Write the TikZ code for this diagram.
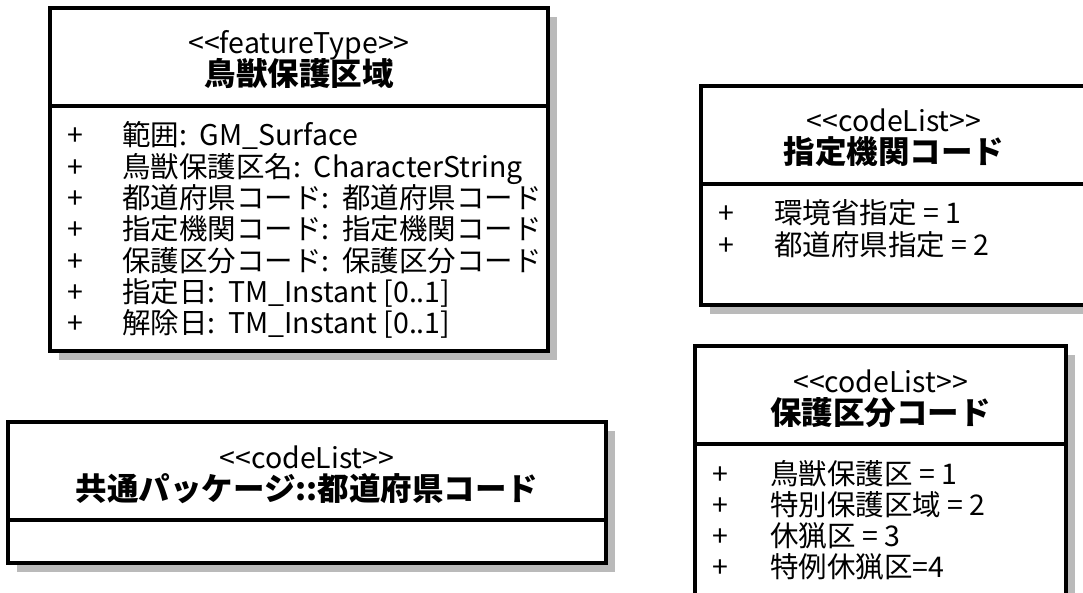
\documentclass[tikz,border=0pt]{standalone}
\usepackage{fontspec}
\setmainfont{Noto Sans CJK JP}
\usetikzlibrary{calc,shadows}

\tikzset{
  umlclass/.style={draw,line width=3.5pt,fill=white,outer sep=0pt,inner sep=0pt,anchor=north west,
    drop shadow={shadow xshift=9pt,shadow yshift=-9pt,fill=black!27,opacity=1}},
  divider/.style={line width=3.5pt},
  stereo/.style={inner sep=0pt,anchor=base,font=\fontsize{28.5}{28.5}\selectfont},
  clsname/.style={inner sep=0pt,anchor=base,font=\fontsize{31.5}{31.5}\selectfont\bfseries},
  attr/.style={inner sep=0pt,anchor=base west,font=\fontsize{28.5}{28.5}\selectfont},
}

\begin{document}
\begin{tikzpicture}[x=1pt,y=-1pt]
    \useasboundingbox (0,0) rectangle (1083,593);
    \clip (0,0) rectangle (1083,593);

    \node[umlclass,minimum width=498pt,minimum height=343pt] (hogo) at (50,8) {};
    \node[umlclass,minimum width=386pt,minimum height=219pt] (kikan) at (701,86) {};
    \node[umlclass,minimum width=598pt,minimum height=141pt] (todo) at (8,422) {};
    \node[umlclass,minimum width=371pt,minimum height=264pt] (kubun) at (695,346) {};

    \foreach \cls in {hogo,kikan,todo,kubun}
        \draw[divider] ($(\cls.north west)+(0,98)$) -- ($(\cls.north east)+(0,98)$);

    \node[stereo] (hogo-st) at ($(hogo.north)+(0,46)$) {<{}<featureType>{}>};
    \node[clsname] (hogo-nm) at ($(hogo.north)+(0,78)$) {鳥獣保護区域};
    \foreach \txt [count=\i] in {{範囲:\ \ GM\_Surface},{鳥獣保護区名:\ \ CharacterString},
        {都道府県コード:\ \ 都道府県コード},{指定機関コード:\ \ 指定機関コード},
        {保護区分コード:\ \ 保護区分コード},{指定日:\ \ TM\_Instant [0..1]},{解除日:\ \ TM\_Instant [0..1]}}{
        \node[attr] (hogo-p\i) at ($(hogo.north west)+(17,138+31.3*\i-31.3)$) {+};
        \node[attr] (hogo-a\i) at ($(hogo.north west)+(72,138+31.3*\i-31.3)$) {\txt};
    }

    \node[stereo] (kikan-st) at ($(kikan.north)+(0,46)$) {<{}<codeList>{}>};
    \node[clsname] (kikan-nm) at ($(kikan.north)+(0,78)$) {指定機関コード};
    \foreach \txt [count=\i] in {{環境省指定 = 1},{都道府県指定 = 2}}{
        \node[attr] (kikan-p\i) at ($(kikan.north west)+(17,138+31.3*\i-31.3)$) {+};
        \node[attr] (kikan-a\i) at ($(kikan.north west)+(73,138+31.3*\i-31.3)$) {\txt};
    }

    \node[stereo] (todo-st) at ($(todo.north)+(0,46)$) {<{}<codeList>{}>};
    \node[clsname] (todo-nm) at ($(todo.north)+(0,78)$) {共通パッケージ::都道府県コード};

    \node[stereo] (kubun-st) at ($(kubun.north)+(0,46)$) {<{}<codeList>{}>};
    \node[clsname] (kubun-nm) at ($(kubun.north)+(0,78)$) {保護区分コード};
    \foreach \txt [count=\i] in {{鳥獣保護区 = 1},{特別保護区域 = 2},{休猟区 = 3},{特例休猟区=4}}{
        \node[attr] (kubun-p\i) at ($(kubun.north west)+(17,138+31.3*\i-31.3)$) {+};
        \node[attr] (kubun-a\i) at ($(kubun.north west)+(75,138+31.3*\i-31.3)$) {\txt};
    }
\end{tikzpicture}
\end{document}
